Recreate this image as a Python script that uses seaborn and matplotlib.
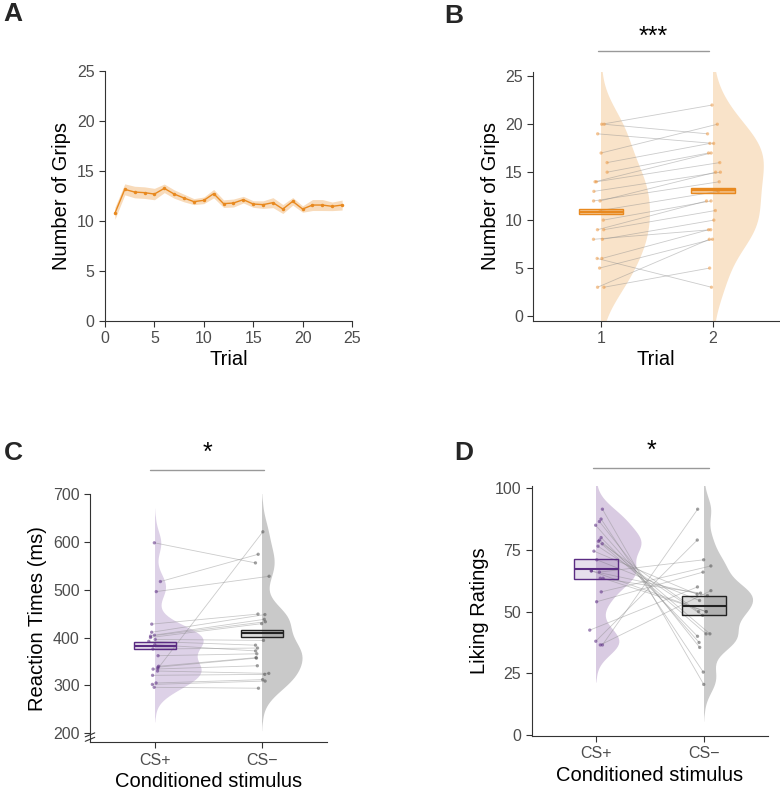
import numpy as np
import pandas as pd
import matplotlib.pyplot as plt
import matplotlib.transforms as mtransforms
from matplotlib.collections import LineCollection
from matplotlib.patches import Rectangle
import seaborn as sns

# ---- datos ----
# A: numero medio de agarres por ensayo (+/- SE)
trials = list(range(1, 25))
grips_mean = [10.75, 13.15, 12.88, 12.82, 12.68, 13.25, 12.68, 12.28, 11.92, 12.05, 12.72, 11.72,
              11.78, 12.12, 11.68, 11.62, 11.82, 11.18, 11.95, 11.18, 11.58, 11.58, 11.45, 11.58]
grips_se = [0.6, 0.55, 0.58, 0.58, 0.57, 0.43, 0.42, 0.38, 0.3, 0.33, 0.42, 0.38,
            0.4, 0.33, 0.33, 0.38, 0.5, 0.45, 0.38, 0.32, 0.55, 0.55, 0.43, 0.5]

# B: agarres por sujeto, ensayo 1 vs ensayo 2 (mismo orden de sujetos)
trial_cats = ["1", "2"]
grips_t1 = [20, 20, 19, 17, 16, 15, 14, 14, 13, 12, 12, 11, 10, 9, 9, 8, 8, 6, 6, 5, 3, 3]
grips_t2 = [22, 19, 18, 20, 18, 17, 17, 16, 15, 15, 14, 13, 12, 12, 11, 10, 9, 9, 3, 8, 8, 5]
grips_box_lo = [10.59, 12.85]
grips_box_mid = [10.85, 13.12]
grips_box_hi = [11.11, 13.4]

# C: tiempos de reaccion
cs_cats = ["CS+", "CS\u2212"]
rt_csp = [598, 517, 496, 428, 411, 405, 403, 400, 396, 392, 385, 376, 362, 340, 338, 335,
          334, 330, 321, 305, 302, 296]
rt_csm = [556, 574, 528, 449, 448, 438, 433, 429, 394, 384, 372, 378, 366, 358, 357, 621,
          341, 325, 323, 312, 309, 294]
rt_box_lo = [377, 402]
rt_box_mid = [383, 409]
rt_box_hi = [390, 416]

# D: liking ratings
like_csp = [91.5, 87.5, 86.5, 85, 80, 79, 78.5, 77.5, 76.5, 74.5, 71, 66.5, 66.5, 66, 63.5,
            63.5, 58, 54, 42.5, 38, 36.5, 36.5]
like_csm = [20.5, 25.5, 35.5, 37.5, 40, 41, 41, 50, 48.5, 57, 54.5, 56.5, 50, 71, 57.5, 50,
            68.5, 66, 60, 79, 91.5, 58.5]
like_box_lo = [63.1, 48.5]
like_box_mid = [67.2, 52.4]
like_box_hi = [71.2, 56.5]

ORANGE = "#E8891F"
PURPLE = "#5B2C83"
DARK = "#222222"

np.random.seed(3)  # jitter reproducible
sns.set_style("ticks")
plt.rcParams["font.family"] = ["Liberation Sans", "DejaVu Sans"]

fig = plt.figure(figsize=(7.8, 7.9), dpi=100)


def px_axes(l, t, r, b):
    return fig.add_axes([l / 780, 1 - b / 790, (r - l) / 780, (b - t) / 790])


def style(ax, xlabel, ylabel):
    sns.despine(ax=ax)
    for s in ["left", "bottom"]:
        ax.spines[s].set_linewidth(0.8)
        ax.spines[s].set_color("#333333")
    ax.tick_params(direction="out", length=4, width=0.8, color="#333333",
                   labelcolor="#4D4D4D", labelsize=11.5)
    ax.set_xlabel(xlabel, fontsize=14.5, color="black", labelpad=3)
    ax.set_ylabel(ylabel, fontsize=14.5, color="black", labelpad=4)


def raincloud(ax, cats, first, second, vcols, dcols, box_lo, box_mid, box_hi,
              box_edge, box_alpha, bw):
    n = len(first)
    df = pd.DataFrame({"cond": [cats[0]] * n + [cats[1]] * n,
                       "value": first + second})
    before = len(ax.collections)
    sns.violinplot(data=df, x="cond", y="value", hue="cond", order=cats,
                   hue_order=cats, palette=dict(zip(cats, vcols)), dodge=False,
                   inner=None, linewidth=0, cut=3, bw_adjust=bw, width=0.9,
                   common_norm=True, saturation=1, legend=False, ax=ax)
    # quedarse solo con la mitad derecha de cada violin (y dentro del panel)
    tr = mtransforms.blended_transform_factory(ax.transData, ax.transAxes)
    for i, coll in enumerate(ax.collections[before:]):
        coll.set_clip_path(Rectangle((i, 0), 1, 1, transform=tr))
    sns.stripplot(data=df, x="cond", y="value", hue="cond", order=cats,
                  hue_order=cats, palette=dict(zip(cats, dcols)), jitter=0.07,
                  size=2.4, alpha=0.55, linewidth=0, legend=False, zorder=4, ax=ax)
    a = ax.collections[-2].get_offsets()
    b = ax.collections[-1].get_offsets()
    segs = [[a[i], b[i]] for i in range(n)]
    ax.add_collection(LineCollection(segs, colors="#8C8C8C", linewidths=0.6,
                                     alpha=0.45, zorder=3))
    pos = np.arange(len(cats))
    lo = np.array(box_lo)
    hi = np.array(box_hi)
    for i in range(len(cats)):
        ax.bar(pos[i], hi[i] - lo[i], bottom=lo[i], width=0.4,
               facecolor=(*plt.matplotlib.colors.to_rgb(box_edge[i]), box_alpha),
               edgecolor=box_edge[i], linewidth=1, zorder=5)
        ax.hlines(box_mid[i], pos[i] - 0.2, pos[i] + 0.2, colors=box_edge[i],
                  linewidth=1.5, zorder=6)


def signif(ax, x0, x1, ybar, ytxt, label):
    tr = mtransforms.blended_transform_factory(ax.transData, ax.transAxes)
    ax.plot([x0, x1], [ybar, ybar], color="#999999", lw=1, transform=tr, clip_on=False)
    ax.text((x0 + x1) / 2, ytxt, label, transform=tr, ha="center", va="center",
            fontsize=18, color="black")


# ---- A ----
axA = px_axes(105, 71, 352, 320.7)
lo = np.array(grips_mean) - np.array(grips_se)
hi = np.array(grips_mean) + np.array(grips_se)
axA.fill_between(trials, lo, hi, color=ORANGE, alpha=0.3, linewidth=0)
sns.lineplot(x=trials, y=grips_mean, color=ORANGE, marker="o", markersize=2.5,
             markeredgewidth=0, linewidth=1, ax=axA)
axA.set_xlim(0, 25)
axA.set_ylim(0, 25)
axA.set_xticks([0, 5, 10, 15, 20, 25])
axA.set_yticks([0, 5, 10, 15, 20, 25])
style(axA, "Trial", "Number of Grips")

# ---- B ----
axB = px_axes(533.3, 71.7, 779, 320.7)
raincloud(axB, trial_cats, grips_t1, grips_t2, ["#F9E3C9", "#F9E3C9"],
          ["#EE9A45", "#EE9A45"], grips_box_lo, grips_box_mid, grips_box_hi,
          [ORANGE, ORANGE], 0.45, 0.9)
axB.set_xlim(-0.604, 1.59)
axB.set_ylim(-0.49, 25.48)
axB.set_yticks([0, 5, 10, 15, 20, 25])
style(axB, "Trial", "Number of Grips")
signif(axB, -0.027, 0.964, 1.083, 1.14, "***")

# ---- C ----
axC = px_axes(90, 494, 327, 742.3)
raincloud(axC, cs_cats, rt_csp, rt_csm, ["#DDD1E7", "#C9C9C9"],
          [PURPLE, "#555555"], rt_box_lo, rt_box_mid, rt_box_hi,
          [PURPLE, DARK], 0.15, 0.6)
axC.set_xlim(-0.607, 1.607)
axC.set_ylim(181, 700)
axC.set_yticks([200, 300, 400, 500, 600, 700])
style(axC, "Conditioned stimulus", "Reaction Times (ms)")
signif(axC, -0.047, 1.019, 1.097, 1.165, "*")
# marca de corte del eje
for dy in (0.012, 0.03):
    axC.plot([-0.02, 0.02], [dy - 0.008, dy + 0.008], color="#333333", lw=0.8,
             transform=axC.transAxes, clip_on=False)

# ---- D ----
axD = px_axes(531.7, 486, 768, 736)
raincloud(axD, cs_cats, like_csp, like_csm, ["#D9CBE2", "#CBCBCB"],
          [PURPLE, "#555555"], like_box_lo, like_box_mid, like_box_hi,
          [PURPLE, DARK], 0.15, 0.55)
axD.set_xlim(-0.595, 1.593)
axD.set_ylim(-0.4, 100.9)
axD.set_yticks([0, 25, 50, 75, 100])
style(axD, "Conditioned stimulus", "Liking Ratings")
signif(axD, -0.03, 1.05, 1.073, 1.14, "*")

# letras de panel
for x, y, lab in [(3, 2, "A"), (444, 4, "B"), (4, 441, "C"), (454, 441, "D")]:
    fig.text(x / 780, 1 - y / 790, lab, fontsize=19, fontweight="bold", ha="left", va="top")

fig.savefig("out.png", dpi=100)
